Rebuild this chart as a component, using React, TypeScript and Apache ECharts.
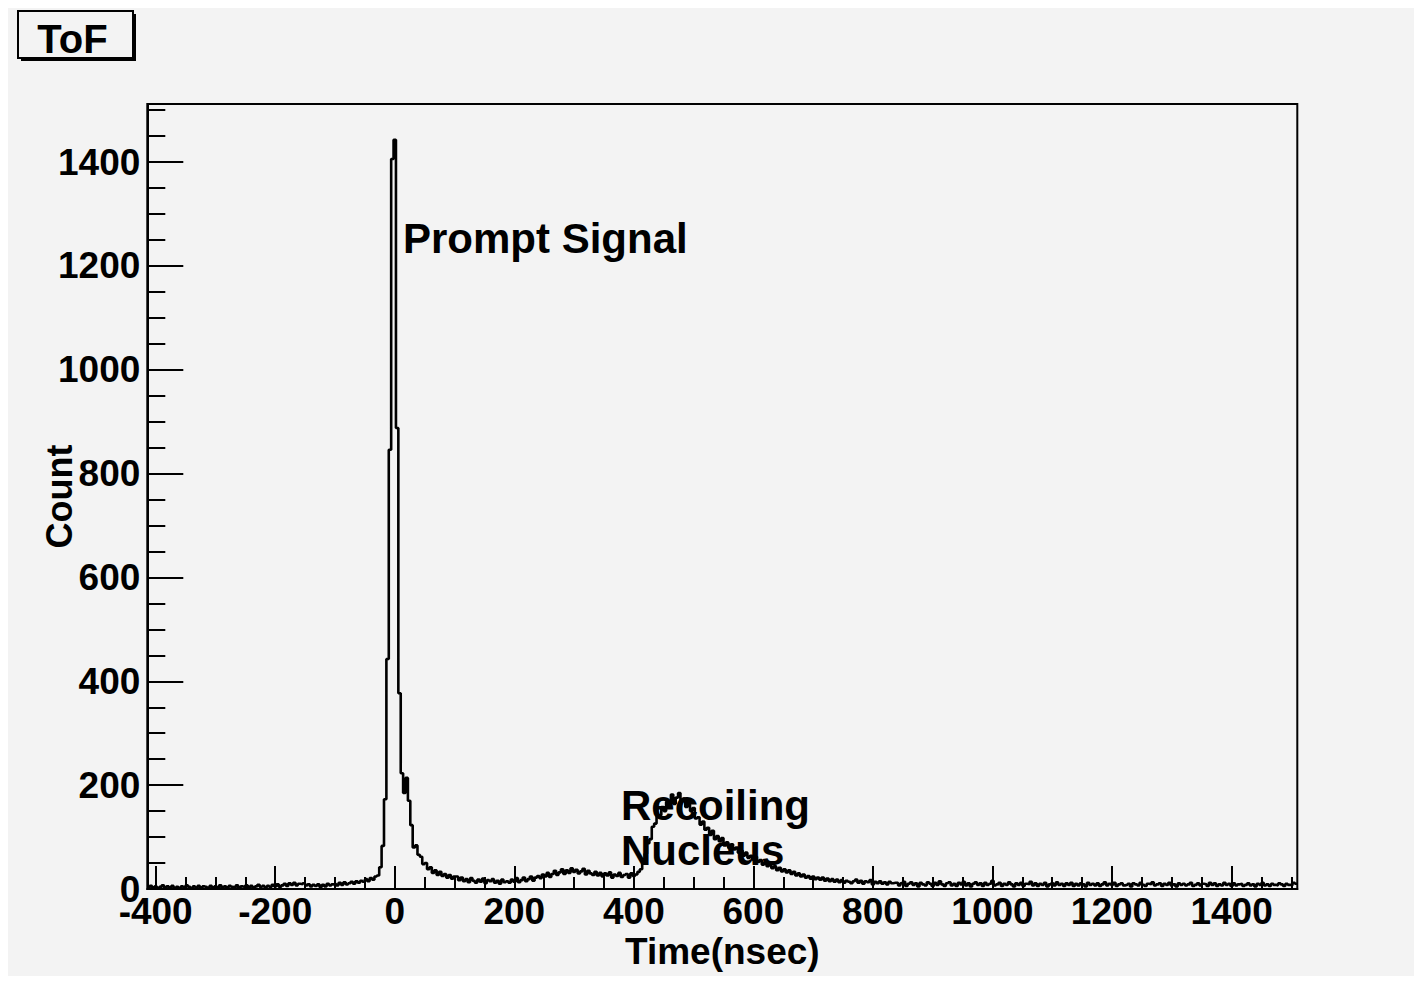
import React, { useEffect, useRef } from "react";
import * as echarts from "echarts";

// ---- axis ranges & ticks ----
const X_MIN = -414;
const X_MAX = 1510;
const Y_MIN = 0;
const Y_MAX = 1512;
const BIN_WIDTH = 4; // ns per bin

const xMajorTicks = [-400, -200, 0, 200, 400, 600, 800, 1000, 1200, 1400];
const xMinorTicks = [-350, -300, -250, -150, -100, -50, 50, 100, 150, 250, 300, 350, 450, 500, 550, 650, 700, 750, 850, 900, 950, 1050, 1100, 1150, 1250, 1300, 1350, 1450, 1500];
const yMajorTicks = [0, 200, 400, 600, 800, 1000, 1200, 1400];
const yMinorTicks = [50, 100, 150, 250, 300, 350, 450, 500, 550, 650, 700, 750, 850, 900, 950, 1050, 1100, 1150, 1250, 1300, 1350, 1450, 1500];

// ---- histogram counts (4 ns bins), segment start times ----
const leftBaselineStart = -414;
const leftBaseline = [
  3, 6, 2, 5, 1, 4, 7, 2, 5, 3,
  6, 2, 4, 1, 5, 3, 7, 4, 2, 5,
  3, 6, 2, 5, 4, 1, 6, 3, 5, 2,
  7, 3, 5, 2, 6, 4, 3, 7, 2, 5,
  4, 7, 3, 6, 2, 5, 8, 4, 6, 3,
  6, 4, 8, 5, 9, 4, 7, 10, 6, 11,
  8, 12, 7, 10, 9, 11, 7, 9, 5, 8,
  6, 9, 4, 8, 5, 10, 7, 9,
];
const riseLeftStart = -102;
const riseLeft = [10, 7, 12, 8, 13, 9, 11, 14, 10, 15, 12, 16, 14, 19, 15, 21, 18, 24, 26];
const promptPeakStart = -26;
const promptPeak = [
  42, 83, 173, 443, 846, 1406, 1443, 888, 377, 223,
  185, 214, 170, 123, 80, 84, 66, 62, 48, 50,
  38, 42, 31, 36, 27, 33, 25, 29, 22, 27, 20, 24,
];
const valleyStart = 102;
const valley = [
  24, 17, 22, 15, 19, 13, 21, 16, 12, 18, 14, 20, 11, 17, 15, 19, 12, 16, 10, 18, 13, 15,
  12, 18, 14, 21, 13, 17, 22, 15, 19, 24, 16, 22, 25,
  21, 28, 24, 31, 23, 29, 35, 27, 32, 38, 29, 36, 31, 40, 33, 37, 30, 34, 39, 28, 35, 30, 27, 33, 26, 31,
  24, 30, 26, 32, 22, 28, 25, 31, 23, 27, 29, 22, 30, 25, 28, 33,
];
const recoilStart = 410;
const recoil = [
  38, 55, 68,
  88, 96, 120, 126,
  140, 142, 158, 150,
  168, 160, 182, 164, 176, 185, 168, 174, 158, 172,
  150, 156, 136, 138,
  124, 130, 114, 118, 104, 112, 96, 102,
  92, 98, 84, 90, 79, 86, 76,
  80, 70, 74, 64, 70, 60, 64,
  57, 62, 52, 56, 47, 52, 44,
  48, 40, 44, 36, 41, 34, 38,
  32, 36, 29, 33, 26, 30, 24,
  28, 22, 25, 20, 24, 19, 22,
  18, 22, 16, 20, 15, 19, 14, 18, 13, 17, 12, 16, 14, 11, 15,
];
const tailStart = 770;
const tail = [
  18, 12, 16, 10, 15, 13, 17, 9, 14, 11, 15, 10, 13, 9, 14, 11, 12,
  12, 7, 11, 14, 6, 10, 13, 8, 11, 5, 12, 9,
  7, 13, 10, 6, 12, 8, 15, 9, 6, 11, 13, 7,
  10, 6, 12, 9, 14, 7, 11, 5, 10, 13, 8, 11,
  6, 12, 8, 10, 16, 7, 9, 12, 6, 10, 8, 13,
  9, 5, 11, 8, 12, 6, 10, 9, 14, 7, 11, 6,
  10, 8, 12, 5, 9, 11, 7, 13, 8, 10, 6, 11,
  8, 12, 6, 10, 7, 11, 9, 5, 12, 8, 10, 7,
  11, 6, 9, 13, 7, 10, 8, 12, 6, 9, 11, 7,
  8, 10, 5, 11, 9, 7, 12, 8, 6, 10, 9, 13,
  7, 9, 11, 6, 10, 8, 12, 7, 9, 5, 11, 8,
  10, 7, 9, 12, 6, 8, 11, 7, 10, 9, 6, 12,
  8, 11, 6, 9, 7, 12, 8, 10, 6, 11, 7, 9,
  10, 6, 8, 11, 7, 9, 5, 10, 8, 12, 7, 9,
  6, 10, 8, 7, 11, 9, 6, 10, 8, 7, 12, 10,
];

const segments: [number, number[]][] = [
  [leftBaselineStart, leftBaseline],
  [riseLeftStart, riseLeft],
  [promptPeakStart, promptPeak],
  [valleyStart, valley],
  [recoilStart, recoil],
  [tailStart, tail],
];

function buildSteps(): [number, number][] {
  const pts: [number, number][] = [];
  let lastEdge = X_MIN;
  let lastVal = 0;
  for (const [start, counts] of segments) {
    counts.forEach((c, i) => {
      pts.push([start + i * BIN_WIDTH, c]);
    });
    lastEdge = start + counts.length * BIN_WIDTH;
    lastVal = counts[counts.length - 1];
  }
  pts.push([lastEdge, lastVal]);
  return pts;
}

const FONT = "'Liberation Sans', Arial, Helvetica, sans-serif";
const BG = "#f3f3f3";
const plain = (v: number) => String(v);

export default function App() {
  const ref = useRef<HTMLDivElement>(null);
  useEffect(() => {
    if (!ref.current) return;
    const chart = echarts.init(ref.current, undefined, { renderer: "svg" });
    const tickLine = { color: "#000", width: 2 };
    const labelStyle = { color: "#000", fontSize: 37, fontWeight: "bold" as const, fontFamily: FONT, formatter: plain };
    chart.setOption({
      animation: false,
      backgroundColor: BG,
      grid: {
        left: 139.3,
        top: 96,
        width: 1150,
        height: 785,
        show: true,
        borderColor: "#000",
        borderWidth: 2,
        backgroundColor: "transparent",
        containLabel: false,
        outerBoundsMode: "none",
      },
      xAxis: [
        {
          type: "value",
          min: X_MIN,
          max: X_MAX,
          position: "bottom",
          axisLine: { show: true, onZero: false, lineStyle: tickLine },
          axisTick: { show: true, inside: true, length: 23, lineStyle: tickLine, customValues: xMajorTicks },
          axisLabel: { ...labelStyle, margin: 4, customValues: xMajorTicks },
          splitLine: { show: false },
          name: "Time(nsec)",
          nameLocation: "middle",
          nameGap: 44,
          nameMoveOverlap: false,
          nameTextStyle: { color: "#000", fontSize: 37, fontWeight: "bold", fontFamily: FONT },
        },
        {
          type: "value",
          min: X_MIN,
          max: X_MAX,
          position: "bottom",
          axisLine: { show: false, onZero: false },
          axisTick: { show: true, inside: true, length: 12, lineStyle: tickLine, customValues: xMinorTicks },
          axisLabel: { show: false },
          splitLine: { show: false },
        },
      ],
      yAxis: [
        {
          type: "value",
          min: Y_MIN,
          max: Y_MAX,
          position: "left",
          axisLine: { show: true, onZero: false, lineStyle: tickLine },
          axisTick: { show: true, inside: true, length: 36, lineStyle: tickLine, customValues: yMajorTicks },
          axisLabel: { ...labelStyle, margin: 7, customValues: yMajorTicks },
          splitLine: { show: false },
          name: "Count",
          nameLocation: "middle",
          nameGap: 70,
          nameRotate: 90,
          nameMoveOverlap: false,
          nameTextStyle: { color: "#000", fontSize: 36, fontWeight: "bold", fontFamily: FONT },
        },
        {
          type: "value",
          min: Y_MIN,
          max: Y_MAX,
          position: "left",
          axisLine: { show: false, onZero: false },
          axisTick: { show: true, inside: true, length: 18, lineStyle: tickLine, customValues: yMinorTicks },
          axisLabel: { show: false },
          splitLine: { show: false },
        },
      ],
      series: [
        {
          type: "line",
          step: "end",
          xAxisIndex: 0,
          yAxisIndex: 0,
          data: buildSteps(),
          showSymbol: false,
          symbol: "none",
          lineStyle: { color: "#000", width: 2.6 },
        },
      ],
      graphic: [
        { type: "rect", shape: { x: 13, y: 6, width: 115, height: 47 }, style: { fill: "#000" }, z: 10 },
        { type: "rect", shape: { x: 10, y: 3, width: 115, height: 47 }, style: { fill: BG, stroke: "#000", lineWidth: 2 }, z: 11 },
        {
          type: "text", x: 64.5, y: 31, z: 12,
          style: { text: "ToF", fill: "#000", font: `bold 40px ${FONT}`, align: "center", verticalAlign: "middle" },
        },
        {
          type: "text", x: 395, y: 230, z: 12,
          style: { text: "Prompt Signal", fill: "#000", font: `bold 42px ${FONT}`, align: "left", verticalAlign: "middle" },
        },
        {
          type: "text", x: 613, y: 797, z: 12,
          style: { text: "Recoiling", fill: "#000", font: `bold 42px ${FONT}`, align: "left", verticalAlign: "middle" },
        },
        {
          type: "text", x: 613, y: 842, z: 12,
          style: { text: "Nucleus", fill: "#000", font: `bold 42px ${FONT}`, align: "left", verticalAlign: "middle" },
        },
      ],
    });
    return () => chart.dispose();
  }, []);
  return <div ref={ref} style={{ width: 1406, height: 968 }} />;
}
